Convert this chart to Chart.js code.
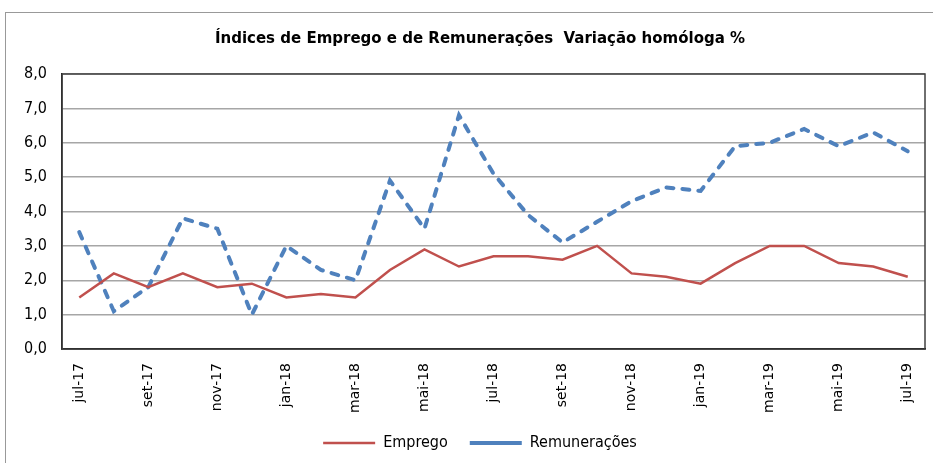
<!DOCTYPE html>
<html>
<head>
<meta charset="utf-8">
<script src="https://cdn.jsdelivr.net/npm/chart.js@4"></script>
<style>
  body { margin: 0; background: #fff; overflow: hidden; }
  #frame { position: absolute; left: 5px; top: 12px; width: 940px; height: 470px; border: 1px solid #999; }
  #wrap { position: absolute; left: 0; top: 0; width: 960px; height: 463px; }
</style>
</head>
<body>
<div id="frame"></div>
<div id="wrap"><canvas id="myChart"></canvas></div>
<script>
const months = ['jul-17','ago-17','set-17','out-17','nov-17','dez-17','jan-18','fev-18','mar-18','abr-18','mai-18','jun-18',
  'jul-18','ago-18','set-18','out-18','nov-18','dez-18','jan-19','fev-19','mar-19','abr-19','mai-19','jun-19','jul-19'];
const emprego = [1.5, 2.2, 1.8, 2.2, 1.8, 1.9, 1.5, 1.6, 1.5, 2.3, 2.9, 2.4, 2.7, 2.7, 2.6, 3.0, 2.2, 2.1, 1.9, 2.5, 3.0, 3.0, 2.5, 2.4, 2.1];
const remuneracoes = [3.4, 1.1, 1.8, 3.8, 3.5, 1.0, 3.0, 2.3, 2.0, 4.9, 3.5, 6.8, 5.1, 3.9, 3.1, 3.7, 4.3, 4.7, 4.6, 5.9, 6.0, 6.4, 5.9, 6.3, 5.75];
const yTicks = [0, 1, 2, 3, 4, 5, 6, 7, 8];

const condFont = "'DejaVu Sans Condensed', 'DejaVu Sans', sans-serif";
const wideFont = "'DejaVu Sans', sans-serif";

// moldura da área do gráfico
const plotBorder = {
  id: 'plotBorder',
  afterDraw(chart) {
    const a = chart.chartArea;
    const c = chart.ctx;
    c.save();
    c.strokeStyle = '#404040';
    c.lineWidth = 1.5;
    c.strokeRect(a.left, a.top, a.right - a.left, a.bottom - a.top);
    c.restore();
  }
};

const ctx = document.getElementById('myChart').getContext('2d');
const myChart = new Chart(ctx, {
  type: 'line',
  data: {
    labels: months,
    datasets: [{
      label: 'Emprego',
      data: emprego,
      borderColor: '#c0504d',
      backgroundColor: '#c0504d',
      borderWidth: 2.5,
      pointRadius: 0,
      tension: 0
    }, {
      label: 'Remunerações',
      data: remuneracoes,
      borderColor: '#4f81bd',
      backgroundColor: '#4f81bd',
      borderWidth: 4,
      borderDash: [7, 9],
      borderCapStyle: 'round',
      pointRadius: 0,
      tension: 0
    }]
  },
  options: {
    responsive: true,
    maintainAspectRatio: false,
    animation: false,
    layout: { padding: { left: 0, right: 0, top: 0, bottom: 2 } },
    scales: {
      x: {
        offset: true,
        grid: { display: false, drawTicks: false },
        border: { color: '#000', width: 1.5 },
        ticks: {
          autoSkip: false,
          maxRotation: 90,
          minRotation: 90,
          padding: 14,
          color: '#000',
          font: { family: wideFont, size: 14 },
          callback: function(v, i) { return i % 2 === 0 ? months[i] : ''; }
        },
        afterFit: function(scale) {
          scale.height = 64;
          scale.paddingLeft = 0;
          scale.paddingRight = 35;
        }
      },
      y: {
        min: 0,
        max: 8,
        afterBuildTicks: function(scale) { scale.ticks = yTicks.map(v => ({ value: v })); },
        grid: { color: '#a6a6a6', lineWidth: 1.5, drawTicks: false },
        border: { color: '#000', width: 1.5 },
        ticks: {
          padding: 15,
          color: '#000',
          font: { family: condFont, size: 16 },
          callback: function(v) { return v.toFixed(1).replace('.', ','); }
        },
        afterFit: function(scale) { scale.width = 62; }
      }
    },
    plugins: {
      title: {
        display: true,
        text: 'Índices de Emprego e de Remunerações  Variação homóloga %',
        color: '#000',
        font: { family: wideFont, size: 15, weight: 'bold' },
        padding: { top: 30, bottom: 26 }
      },
      legend: {
        position: 'bottom',
        labels: {
          usePointStyle: true,
          pointStyle: 'line',
          pointStyleWidth: 52,
          boxHeight: 14,
          color: '#000',
          font: { family: condFont, size: 16 },
          padding: 22
        }
      },
      tooltip: { enabled: false }
    }
  },
  plugins: [plotBorder]
});
</script>
</body>
</html>
